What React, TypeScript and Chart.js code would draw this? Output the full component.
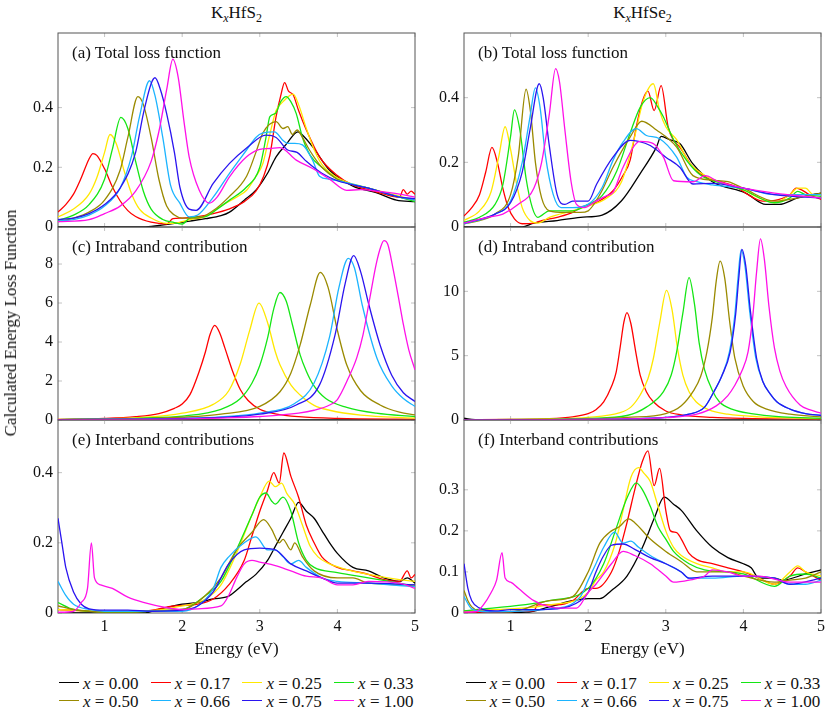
import React, { useEffect, useRef } from 'react';
import { Chart, registerables } from 'chart.js';

Chart.register(...registerables);

// doping levels and their line colours (legend order)
const dopings = ['0.00', '0.17', '0.25', '0.33', '0.50', '0.66', '0.75', '1.00'];
const lineColors = ['#000000', '#ff0000', '#ffe800', '#14e614', '#9a8a00', '#1cb4ff', '#2a14f0', '#ff10e8'];

const energyTicks = [1, 2, 3, 4, 5];
const ticksTotS = [0, 0.2, 0.4];
const ticksTotSe = [0, 0.2, 0.4];
const ticksIntraS = [0, 2, 4, 6, 8];
const ticksIntraSe = [0, 5, 10];
const ticksInterS = [0, 0.2, 0.4];
const ticksInterSe = [0, 0.1, 0.2, 0.3];

// (a) total loss function, KxHfS2 : [energy, value]
const totS_000 = [[0.4,0],[1.5,0],[1.7,0.005],[1.9,0.012],[2.1,0.02],[2.3,0.028],[2.5,0.038],[2.61,0.05],[2.8,0.09],[2.95,0.123],[3.1,0.18],[3.21,0.235],[3.35,0.28],[3.49,0.319],[3.58,0.3],[3.68,0.269],[3.9,0.19],[4.2,0.137],[4.5,0.115],[4.76,0.09],[5.0,0.085]];
const totS_017 = [[0.4,0.05],[0.5,0.075],[0.6,0.11],[0.7,0.165],[0.8,0.228],[0.85,0.246],[0.9,0.24],[1.0,0.195],[1.1,0.135],[1.2,0.088],[1.3,0.055],[1.4,0.035],[1.6,0.016],[1.8,0.01],[1.88,0.028],[2.0,0.03],[2.2,0.035],[2.4,0.045],[2.6,0.06],[2.8,0.085],[2.95,0.12],[3.05,0.17],[3.13,0.24],[3.21,0.37],[3.27,0.44],[3.32,0.484],[3.37,0.455],[3.43,0.443],[3.5,0.39],[3.6,0.325],[3.77,0.235],[3.99,0.174],[4.2,0.14],[4.4,0.125],[4.6,0.11],[4.8,0.1],[4.85,0.125],[4.9,0.11],[4.95,0.12],[5.0,0.11]];
const totS_025 = [[0.4,0.034],[0.6,0.06],[0.8,0.11],[0.9,0.165],[1.0,0.25],[1.07,0.31],[1.15,0.28],[1.25,0.19],[1.35,0.11],[1.45,0.06],[1.6,0.03],[1.8,0.012],[1.95,0.015],[2.1,0.025],[2.3,0.035],[2.52,0.073],[2.7,0.1],[2.83,0.123],[2.95,0.17],[3.04,0.213],[3.12,0.3],[3.21,0.39],[3.3,0.42],[3.43,0.445],[3.5,0.41],[3.6,0.33],[3.7,0.26],[3.8,0.21],[4.0,0.165],[4.4,0.13],[4.7,0.11],[5.0,0.09]];
const totS_033 = [[0.4,0.022],[0.6,0.04],[0.8,0.075],[1.0,0.16],[1.1,0.26],[1.21,0.367],[1.3,0.33],[1.4,0.22],[1.5,0.12],[1.6,0.06],[1.75,0.025],[1.9,0.015],[2.0,0.01],[2.1,0.03],[2.3,0.035],[2.45,0.06],[2.61,0.09],[2.83,0.134],[3.0,0.2],[3.08,0.3],[3.13,0.37],[3.2,0.38],[3.27,0.42],[3.34,0.437],[3.4,0.42],[3.47,0.38],[3.55,0.3],[3.65,0.24],[3.8,0.2],[4.0,0.16],[4.4,0.13],[4.8,0.1],[5.0,0.085]];
const totS_050 = [[0.4,0.018],[0.6,0.03],[0.8,0.05],[1.0,0.09],[1.2,0.19],[1.3,0.3],[1.43,0.437],[1.5,0.41],[1.6,0.3],[1.7,0.16],[1.8,0.07],[1.9,0.04],[2.0,0.03],[2.2,0.03],[2.4,0.055],[2.6,0.1],[2.83,0.17],[2.95,0.25],[3.04,0.315],[3.21,0.353],[3.3,0.33],[3.36,0.336],[3.42,0.31],[3.48,0.325],[3.55,0.3],[3.64,0.258],[3.8,0.2],[4.0,0.16],[4.4,0.13],[4.8,0.1],[5.0,0.09]];
const totS_066 = [[0.4,0.02],[0.6,0.025],[0.8,0.04],[1.0,0.07],[1.2,0.13],[1.35,0.24],[1.45,0.37],[1.58,0.49],[1.65,0.44],[1.75,0.3],[1.85,0.14],[1.97,0.08],[2.09,0.034],[2.2,0.04],[2.4,0.1],[2.61,0.18],[2.83,0.258],[2.95,0.3],[3.04,0.315],[3.19,0.319],[3.3,0.29],[3.36,0.28],[3.45,0.28],[3.55,0.275],[3.68,0.224],[3.77,0.17],[3.9,0.16],[4.0,0.155],[4.4,0.13],[4.8,0.1],[5.0,0.09]];
const totS_075 = [[0.4,0.025],[0.6,0.03],[0.8,0.045],[1.0,0.075],[1.2,0.13],[1.4,0.25],[1.5,0.38],[1.6,0.48],[1.65,0.5],[1.72,0.46],[1.8,0.38],[1.9,0.25],[1.97,0.134],[2.09,0.06],[2.18,0.056],[2.4,0.146],[2.61,0.213],[2.83,0.265],[3.08,0.308],[3.21,0.3],[3.36,0.258],[3.48,0.25],[3.6,0.22],[3.8,0.18],[4.0,0.155],[4.4,0.13],[4.8,0.1],[5.0,0.095]];
const totS_100 = [[0.4,0.018],[0.8,0.025],[1.0,0.045],[1.2,0.07],[1.4,0.12],[1.6,0.22],[1.7,0.32],[1.8,0.46],[1.88,0.562],[1.95,0.5],[2.02,0.36],[2.09,0.235],[2.22,0.123],[2.35,0.08],[2.45,0.1],[2.61,0.168],[2.83,0.235],[3.0,0.26],[3.13,0.263],[3.26,0.266],[3.47,0.224],[3.68,0.196],[3.9,0.16],[4.12,0.123],[4.3,0.125],[4.5,0.12],[4.8,0.11],[5.0,0.1]];

// (b) total loss function, KxHfSe2
const totSe_000 = [[0.4,0],[1.15,0],[1.3,0.012],[1.6,0.02],[1.9,0.03],[2.18,0.037],[2.43,0.081],[2.67,0.165],[2.88,0.247],[2.94,0.28],[3.05,0.27],[3.18,0.258],[3.35,0.195],[3.6,0.14],[4.03,0.105],[4.29,0.07],[4.46,0.07],[4.7,0.09],[4.89,0.1],[5.0,0.105]];
const totSe_017 = [[0.4,0.034],[0.5,0.06],[0.6,0.1],[0.68,0.17],[0.76,0.246],[0.83,0.2],[0.9,0.12],[0.97,0.06],[1.05,0.025],[1.15,0.01],[1.3,0.012],[1.4,0.02],[1.6,0.03],[1.8,0.045],[1.9,0.06],[2.11,0.076],[2.32,0.112],[2.45,0.16],[2.54,0.206],[2.62,0.31],[2.7,0.39],[2.77,0.42],[2.85,0.36],[2.94,0.437],[3.03,0.31],[3.1,0.268],[3.18,0.247],[3.35,0.185],[3.51,0.154],[3.7,0.14],[3.9,0.125],[4.08,0.097],[4.25,0.08],[4.45,0.085],[4.6,0.1],[4.68,0.12],[4.75,0.115],[4.85,0.1],[5.0,0.085]];
const totSe_025 = [[0.4,0.02],[0.6,0.05],[0.75,0.11],[0.85,0.22],[0.93,0.31],[1.0,0.24],[1.08,0.13],[1.15,0.06],[1.25,0.02],[1.35,0.012],[1.5,0.03],[1.8,0.05],[2.0,0.065],[2.24,0.09],[2.43,0.14],[2.58,0.26],[2.71,0.39],[2.84,0.443],[2.92,0.36],[3.0,0.31],[3.14,0.27],[3.3,0.2],[3.5,0.16],[3.8,0.13],[4.0,0.115],[4.2,0.09],[4.4,0.075],[4.6,0.1],[4.7,0.12],[4.8,0.12],[4.9,0.1],[5.0,0.1]];
const totSe_033 = [[0.4,0.015],[0.6,0.03],[0.8,0.07],[0.9,0.13],[1.0,0.28],[1.05,0.362],[1.12,0.3],[1.2,0.15],[1.28,0.06],[1.35,0.03],[1.5,0.05],[1.8,0.05],[2.0,0.07],[2.18,0.097],[2.37,0.174],[2.54,0.29],[2.67,0.37],[2.8,0.4],[2.9,0.37],[2.97,0.34],[3.1,0.27],[3.27,0.205],[3.45,0.16],[3.8,0.13],[4.0,0.115],[4.4,0.075],[4.6,0.09],[4.7,0.11],[4.8,0.1],[5.0,0.095]];
const totSe_050 = [[0.4,0.01],[0.6,0.02],[0.8,0.04],[1.0,0.1],[1.1,0.22],[1.2,0.426],[1.26,0.35],[1.32,0.2],[1.4,0.09],[1.5,0.05],[1.7,0.045],[1.9,0.045],[2.0,0.05],[2.15,0.1],[2.32,0.185],[2.54,0.278],[2.69,0.327],[2.88,0.3],[3.14,0.247],[3.35,0.159],[3.6,0.145],[3.8,0.14],[4.0,0.12],[4.4,0.08],[4.7,0.09],[5.0,0.105]];
const totSe_066 = [[0.4,0.01],[0.8,0.04],[1.0,0.08],[1.15,0.2],[1.25,0.34],[1.32,0.43],[1.38,0.37],[1.45,0.22],[1.55,0.1],[1.65,0.06],[1.8,0.06],[2.0,0.07],[2.18,0.122],[2.32,0.206],[2.45,0.263],[2.62,0.304],[2.75,0.283],[2.92,0.273],[3.14,0.216],[3.27,0.154],[3.4,0.14],[3.6,0.13],[4.0,0.12],[4.4,0.1],[5.0,0.1]];
const totSe_075 = [[0.4,0.012],[0.8,0.04],[1.0,0.075],[1.15,0.17],[1.25,0.3],[1.37,0.443],[1.42,0.4],[1.5,0.25],[1.6,0.1],[1.7,0.07],[1.8,0.08],[2.0,0.08],[2.11,0.133],[2.32,0.216],[2.54,0.268],[2.65,0.265],[2.8,0.252],[3.0,0.216],[3.18,0.185],[3.35,0.133],[3.6,0.135],[4.0,0.12],[4.4,0.1],[5.0,0.09]];
const totSe_100 = [[0.4,0.012],[0.7,0.03],[0.9,0.04],[1.1,0.07],[1.3,0.12],[1.4,0.2],[1.5,0.35],[1.58,0.49],[1.63,0.45],[1.7,0.3],[1.78,0.14],[1.85,0.07],[1.95,0.06],[2.1,0.08],[2.24,0.097],[2.32,0.107],[2.45,0.185],[2.67,0.265],[2.84,0.258],[2.97,0.216],[3.1,0.143],[3.35,0.14],[3.51,0.159],[3.68,0.14],[4.0,0.12],[4.4,0.105],[5.0,0.09]];

// (c) intraband contribution, KxHfS2
const intraS_000 = [[0.4,0],[5.0,0]];
const intraS_017 = [[0.4,0.03],[1.0,0.08],[1.4,0.17],[1.7,0.33],[1.9,0.6],[2.0,0.82],[2.1,1.3],[2.22,2.5],[2.3,3.5],[2.36,4.4],[2.42,4.85],[2.48,4.5],[2.55,3.7],[2.65,2.5],[2.75,1.55],[2.85,1.0],[3.0,0.55],[3.2,0.32],[3.5,0.17],[4.0,0.08],[5.0,0.04]];
const intraS_025 = [[0.4,0.03],[1.0,0.06],[1.5,0.13],[2.0,0.35],[2.4,0.8],[2.6,1.5],[2.75,2.9],[2.87,4.6],[2.99,6.0],[3.1,5.0],[3.2,3.5],[3.26,2.83],[3.4,1.8],[3.52,1.28],[3.7,0.75],[3.9,0.5],[4.3,0.25],[5.0,0.1]];
const intraS_033 = [[0.4,0.02],[1.0,0.05],[1.5,0.1],[2.0,0.2],[2.5,0.55],[2.75,1.1],[2.9,1.9],[3.0,2.8],[3.1,4.2],[3.18,5.7],[3.26,6.54],[3.34,6.1],[3.42,4.9],[3.52,3.34],[3.6,2.5],[3.69,1.8],[3.85,1.1],[4.12,0.65],[4.5,0.35],[5.0,0.17]];
const intraS_050 = [[0.4,0.02],[1.0,0.04],[1.5,0.07],[2.0,0.14],[2.5,0.3],[3.0,0.7],[3.26,1.45],[3.4,2.4],[3.52,3.85],[3.65,5.9],[3.78,7.57],[3.88,6.8],[4.0,4.6],[4.12,2.83],[4.3,1.5],[4.55,0.77],[4.8,0.4],[5.0,0.26]];
const intraS_066 = [[0.4,0.02],[1.5,0.05],[2.0,0.08],[2.5,0.16],[3.0,0.35],[3.45,0.85],[3.7,1.9],[3.9,4.28],[4.02,6.8],[4.14,8.29],[4.22,7.8],[4.32,5.9],[4.51,3.17],[4.7,1.75],[4.85,1.1],[5.0,0.7]];
const intraS_075 = [[0.4,0.02],[1.5,0.04],[2.0,0.07],[2.5,0.13],[3.0,0.3],[3.47,0.77],[3.77,1.8],[3.97,4.37],[4.1,7.0],[4.21,8.43],[4.3,7.6],[4.4,6.0],[4.55,3.85],[4.7,2.3],[4.85,1.4],[5.0,0.95]];
const intraS_100 = [[0.4,0.01],[1.5,0.03],[2.0,0.05],[2.5,0.1],[3.0,0.18],[3.5,0.35],[3.7,0.5],[3.9,0.77],[4.0,1.05],[4.14,2.14],[4.25,3.2],[4.33,4.37],[4.42,6.3],[4.5,8.0],[4.56,8.9],[4.6,9.2],[4.65,9.0],[4.72,7.7],[4.8,6.0],[4.85,4.9],[4.92,3.6],[5.0,2.57]];

// (d) intraband contribution, KxHfSe2
const intraSe_000 = [[0.4,0.15],[0.45,0.08],[0.5,0.04],[0.6,0.01],[0.8,0],[5.0,0]];
const intraSe_017 = [[0.4,0.03],[1.0,0.05],[1.5,0.1],[1.8,0.25],[2.0,0.5],[2.1,0.8],[2.2,1.4],[2.3,2.6],[2.36,3.7],[2.41,5.56],[2.46,7.6],[2.5,8.35],[2.55,7.5],[2.61,5.4],[2.67,3.49],[2.75,2.2],[2.84,1.42],[3.0,0.7],[3.2,0.4],[3.6,0.2],[4.0,0.12],[5.0,0.06]];
const intraSe_025 = [[0.4,0.02],[1.5,0.08],[2.0,0.2],[2.4,0.55],[2.55,1.0],[2.67,1.94],[2.77,3.2],[2.84,4.78],[2.92,7.5],[3.01,10.08],[3.08,8.6],[3.15,5.6],[3.22,3.49],[3.3,2.2],[3.39,1.42],[3.55,0.8],[3.8,0.45],[4.2,0.25],[5.0,0.1]];
const intraSe_033 = [[0.4,0.02],[1.5,0.05],[2.0,0.12],[2.5,0.35],[2.75,1.0],[2.97,2.2],[3.07,3.5],[3.14,5.3],[3.22,8.3],[3.3,11.06],[3.37,9.0],[3.43,6.0],[3.5,3.9],[3.6,2.3],[3.69,1.42],[3.85,0.85],[4.1,0.5],[4.5,0.25],[5.0,0.13]];
const intraSe_050 = [[0.4,0.02],[1.5,0.04],[2.0,0.08],[2.5,0.2],[3.0,0.5],[3.2,1.1],[3.35,2.2],[3.45,3.4],[3.53,5.3],[3.6,8.0],[3.65,10.8],[3.7,12.35],[3.76,11.0],[3.82,7.8],[3.89,4.8],[4.0,2.6],[4.13,1.42],[4.3,0.85],[4.6,0.45],[5.0,0.25]];
const intraSe_066 = [[0.4,0.01],[1.5,0.02],[2.0,0.04],[2.5,0.08],[3.0,0.2],[3.3,0.45],[3.5,1.0],[3.62,2.2],[3.72,3.4],[3.82,5.3],[3.89,8.2],[3.93,11.0],[3.97,13.2],[4.02,12.0],[4.08,8.5],[4.16,4.8],[4.25,3.0],[4.35,2.0],[4.43,1.42],[4.6,0.85],[4.8,0.5],[5.0,0.35]];
const intraSe_075 = [[0.4,0.01],[1.5,0.02],[2.0,0.04],[2.5,0.08],[3.0,0.2],[3.3,0.45],[3.5,1.0],[3.62,2.2],[3.72,3.4],[3.83,5.3],[3.9,8.2],[3.94,11.0],[3.98,13.26],[4.03,12.0],[4.09,8.5],[4.17,4.8],[4.25,3.0],[4.35,2.0],[4.43,1.42],[4.6,0.85],[4.8,0.5],[5.0,0.35]];
const intraSe_100 = [[0.4,0.01],[2.0,0.04],[2.5,0.08],[3.0,0.18],[3.4,0.45],[3.65,1.1],[3.8,1.9],[3.89,2.7],[3.98,3.8],[4.06,5.3],[4.12,8.0],[4.17,11.5],[4.22,14.08],[4.27,12.5],[4.33,8.8],[4.4,5.6],[4.47,3.8],[4.55,2.6],[4.73,1.16],[4.85,0.8],[5.0,0.54]];

// (e) interband contributions, KxHfS2
const interS_000 = [[0.4,0],[1.5,0],[1.7,0.01],[2.0,0.025],[2.2,0.03],[2.4,0.04],[2.6,0.048],[2.7,0.065],[2.82,0.088],[2.95,0.11],[3.1,0.15],[3.2,0.19],[3.3,0.23],[3.4,0.27],[3.5,0.315],[3.6,0.29],[3.7,0.27],[3.8,0.235],[3.9,0.2],[4.0,0.17],[4.2,0.13],[4.4,0.12],[4.6,0.1],[4.8,0.09],[4.9,0.1],[5.0,0.085]];
const interS_017 = [[0.4,0.01],[1.0,0.004],[1.5,0.005],[1.9,0.02],[2.2,0.025],[2.4,0.04],[2.6,0.08],[2.8,0.15],[2.9,0.22],[3.0,0.29],[3.1,0.35],[3.18,0.4],[3.25,0.37],[3.31,0.456],[3.4,0.39],[3.5,0.33],[3.6,0.25],[3.7,0.2],[3.8,0.16],[4.0,0.13],[4.2,0.12],[4.4,0.11],[4.6,0.095],[4.8,0.09],[4.9,0.12],[4.95,0.1],[5.0,0.11]];
const interS_025 = [[0.4,0.01],[1.0,0.004],[1.5,0.005],[2.0,0.02],[2.3,0.04],[2.5,0.08],[2.7,0.17],[2.9,0.28],[3.0,0.33],[3.12,0.376],[3.2,0.36],[3.28,0.37],[3.35,0.34],[3.45,0.31],[3.55,0.25],[3.65,0.19],[3.75,0.16],[3.9,0.14],[4.1,0.125],[4.4,0.11],[4.8,0.095],[5.0,0.09]];
const interS_033 = [[0.4,0.03],[0.6,0.01],[1.0,0.003],[2.0,0.01],[2.3,0.05],[2.5,0.09],[2.7,0.18],[2.9,0.28],[3.0,0.33],[3.08,0.342],[3.15,0.32],[3.2,0.31],[3.3,0.33],[3.4,0.29],[3.5,0.2],[3.6,0.15],[3.7,0.13],[4.0,0.115],[4.4,0.1],[4.8,0.085],[5.0,0.075]];
const interS_050 = [[0.4,0.02],[0.6,0.01],[0.8,0.005],[1.0,0.003],[2.0,0.01],[2.3,0.05],[2.5,0.1],[2.7,0.18],[2.9,0.23],[3.05,0.266],[3.15,0.24],[3.25,0.2],[3.3,0.21],[3.4,0.18],[3.45,0.2],[3.55,0.16],[3.7,0.12],[4.0,0.1],[4.2,0.1],[4.4,0.085],[5.0,0.08]];
const interS_066 = [[0.4,0.09],[0.5,0.05],[0.6,0.025],[0.8,0.01],[1.0,0.005],[2.0,0.005],[2.2,0.02],[2.4,0.07],[2.5,0.13],[2.6,0.16],[2.8,0.2],[2.95,0.217],[3.1,0.18],[3.2,0.18],[3.3,0.16],[3.4,0.14],[3.5,0.15],[3.6,0.13],[3.8,0.1],[4.0,0.09],[4.4,0.085],[5.0,0.075]];
const interS_075 = [[0.4,0.27],[0.45,0.2],[0.5,0.13],[0.6,0.06],[0.7,0.025],[0.8,0.012],[1.0,0.008],[1.3,0.008],[1.6,0.005],[2.0,0.008],[2.2,0.02],[2.4,0.06],[2.6,0.14],[2.8,0.18],[3.0,0.185],[3.2,0.18],[3.4,0.14],[3.6,0.12],[3.8,0.1],[4.0,0.085],[4.4,0.085],[5.0,0.08]];
const interS_100 = [[0.4,0.002],[0.6,0.005],[0.7,0.03],[0.78,0.07],[0.83,0.2],[0.87,0.1],[0.95,0.08],[1.1,0.07],[1.3,0.045],[1.5,0.03],[1.8,0.015],[2.0,0.01],[2.2,0.012],[2.5,0.02],[2.6,0.05],[2.7,0.1],[2.8,0.14],[2.9,0.15],[3.0,0.145],[3.2,0.135],[3.4,0.12],[3.6,0.105],[3.8,0.1],[4.0,0.08],[4.2,0.08],[4.4,0.09],[4.8,0.085],[5.0,0.07]];

// (f) interband contributions, KxHfSe2
const interSe_000 = [[0.4,0],[1.2,0.002],[1.5,0.015],[1.8,0.03],[2.0,0.035],[2.15,0.035],[2.3,0.055],[2.5,0.09],[2.7,0.16],[2.85,0.23],[2.98,0.282],[3.1,0.265],[3.2,0.25],[3.4,0.2],[3.6,0.16],[3.8,0.135],[4.0,0.12],[4.1,0.11],[4.2,0.085],[4.4,0.085],[4.5,0.08],[4.8,0.095],[5.0,0.105]];
const interSe_017 = [[0.4,0.002],[1.3,0.005],[1.35,0.02],[1.6,0.02],[1.8,0.03],[2.0,0.06],[2.1,0.06],[2.3,0.1],[2.4,0.15],[2.5,0.22],[2.6,0.3],[2.7,0.37],[2.77,0.395],[2.85,0.31],[2.92,0.352],[3.0,0.25],[3.06,0.2],[3.14,0.196],[3.2,0.18],[3.3,0.145],[3.4,0.13],[3.6,0.12],[3.8,0.11],[4.0,0.1],[4.2,0.085],[4.4,0.07],[4.6,0.09],[4.7,0.11],[4.8,0.1],[5.0,0.08]];
const interSe_025 = [[0.4,0.005],[1.5,0.02],[2.0,0.05],[2.1,0.08],[2.2,0.1],[2.35,0.17],[2.45,0.25],[2.55,0.33],[2.65,0.354],[2.72,0.34],[2.8,0.32],[2.9,0.26],[3.0,0.2],[3.1,0.16],[3.2,0.14],[3.4,0.12],[3.6,0.11],[3.8,0.1],[4.0,0.1],[4.4,0.07],[4.6,0.1],[4.7,0.115],[4.8,0.1],[5.0,0.09]];
const interSe_033 = [[0.4,0.005],[1.5,0.03],[2.0,0.06],[2.2,0.12],[2.35,0.2],[2.5,0.28],[2.62,0.317],[2.7,0.3],[2.8,0.26],[2.9,0.21],[3.0,0.18],[3.1,0.15],[3.3,0.12],[3.5,0.105],[3.8,0.1],[4.0,0.095],[4.4,0.065],[4.6,0.09],[4.8,0.095],[5.0,0.085]];
const interSe_050 = [[0.4,0.055],[0.45,0.03],[0.5,0.015],[0.6,0.005],[1.0,0.003],[1.5,0.03],[1.8,0.04],[2.0,0.1],[2.15,0.17],[2.3,0.2],[2.4,0.21],[2.52,0.229],[2.6,0.22],[2.8,0.18],[3.0,0.15],[3.2,0.125],[3.4,0.1],[3.6,0.1],[3.8,0.1],[4.0,0.09],[4.4,0.075],[4.6,0.08],[4.8,0.085],[5.0,0.1]];
const interSe_066 = [[0.4,0.04],[0.5,0.01],[0.7,0.003],[1.5,0.01],[1.9,0.04],[2.0,0.08],[2.1,0.12],[2.2,0.16],[2.34,0.197],[2.45,0.17],[2.55,0.175],[2.65,0.16],[2.8,0.14],[3.0,0.12],[3.2,0.1],[3.3,0.085],[3.6,0.085],[4.0,0.09],[4.4,0.085],[4.6,0.07],[4.8,0.07],[5.0,0.08]];
const interSe_075 = [[0.4,0.12],[0.45,0.06],[0.5,0.03],[0.6,0.012],[0.8,0.005],[1.0,0.008],[1.3,0.008],[1.6,0.01],[1.9,0.03],[2.0,0.05],[2.1,0.1],[2.2,0.14],[2.3,0.165],[2.45,0.168],[2.6,0.155],[2.8,0.135],[3.0,0.12],[3.2,0.1],[3.3,0.085],[3.6,0.09],[4.0,0.09],[4.4,0.085],[4.6,0.07],[5.0,0.085]];
const interSe_100 = [[0.4,0.002],[0.55,0.003],[0.65,0.02],[0.75,0.05],[0.82,0.08],[0.89,0.147],[0.93,0.085],[1.0,0.075],[1.1,0.06],[1.3,0.03],[1.5,0.015],[1.7,0.012],[1.85,0.012],[2.0,0.05],[2.1,0.07],[2.3,0.12],[2.45,0.15],[2.6,0.14],[2.8,0.12],[3.0,0.09],[3.1,0.075],[3.3,0.08],[3.5,0.09],[3.6,0.105],[3.8,0.1],[4.0,0.09],[4.2,0.09],[4.6,0.075],[5.0,0.075]];

const totS = [totS_000, totS_017, totS_025, totS_033, totS_050, totS_066, totS_075, totS_100];
const totSe = [totSe_000, totSe_017, totSe_025, totSe_033, totSe_050, totSe_066, totSe_075, totSe_100];
const intraS = [intraS_000, intraS_017, intraS_025, intraS_033, intraS_050, intraS_066, intraS_075, intraS_100];
const intraSe = [intraSe_000, intraSe_017, intraSe_025, intraSe_033, intraSe_050, intraSe_066, intraSe_075, intraSe_100];
const interS = [interS_000, interS_017, interS_025, interS_033, interS_050, interS_066, interS_075, interS_100];
const interSe = [interSe_000, interSe_017, interSe_025, interSe_033, interSe_050, interSe_066, interSe_075, interSe_100];

const FONT = '"Liberation Serif", "Times New Roman", serif';

// plot-area geometry (page pixels)
const colLeft = [58, 464];
const colRight = [415, 821];
const rowTop = [33, 227, 420];
const rowBottom = [227, 420, 613];
const Y_AXIS_W = 50;

const panels = [
  { label: '(a) Total loss function', series: totS, ymax: 0.65, yTicks: ticksTotS, col: 0, row: 0 },
  { label: '(b) Total loss function', series: totSe, ymax: 0.6, yTicks: ticksTotSe, col: 1, row: 0 },
  { label: '(c) Intraband contribution', series: intraS, ymax: 9.9, yTicks: ticksIntraS, col: 0, row: 1 },
  { label: '(d) Intraband contribution', series: intraSe, ymax: 15, yTicks: ticksIntraSe, col: 1, row: 1 },
  { label: '(e) Interband contributions', series: interS, ymax: 0.55, yTicks: ticksInterS, col: 0, row: 2 },
  { label: '(f) Interband contributions', series: interSe, ymax: 0.47, yTicks: ticksInterSe, col: 1, row: 2 },
];

// pgfplots-like box with inward tick marks
const framePlugin = {
  id: 'frame',
  beforeDatasetsDraw(chart: any) {
    const { ctx, chartArea } = chart;
    const { left, right, top, bottom } = chartArea;
    const xs = chart.scales.x;
    const ys = chart.scales.y;
    ctx.save();
    ctx.strokeStyle = '#b4b4b4';
    ctx.lineWidth = 0.8;
    ctx.beginPath();
    xs.ticks.forEach((t: any) => {
      const px = xs.getPixelForValue(t.value);
      ctx.moveTo(px, bottom);
      ctx.lineTo(px, bottom - 4);
      ctx.moveTo(px, top);
      ctx.lineTo(px, top + 4);
    });
    ys.ticks.forEach((t: any) => {
      const py = ys.getPixelForValue(t.value);
      ctx.moveTo(left, py);
      ctx.lineTo(left + 4, py);
      ctx.moveTo(right, py);
      ctx.lineTo(right - 4, py);
    });
    ctx.stroke();
    ctx.strokeStyle = '#555555';
    ctx.lineWidth = 1;
    ctx.strokeRect(left, top, right - left, bottom - top);
    ctx.restore();
  },
};

type PanelSpec = (typeof panels)[number];

const Panel: React.FC<{ spec: PanelSpec }> = ({ spec }) => {
  const canvasRef = useRef<HTMLCanvasElement | null>(null);
  const bottomRow = spec.row === 2;
  const padTop = 6;
  const padRight = 8;
  const xAxisH = bottomRow ? 26 : 12;
  const plotW = colRight[spec.col] - colLeft[spec.col];
  const plotH = rowBottom[spec.row] - rowTop[spec.row];
  const width = Y_AXIS_W + plotW + padRight;
  const height = padTop + plotH + xAxisH;
  const left = colLeft[spec.col] - Y_AXIS_W;
  const top = rowTop[spec.row] - padTop;

  useEffect(() => {
    if (!canvasRef.current) return;
    const chart = new Chart(canvasRef.current, {
      type: 'line',
      data: {
        datasets: spec.series.map((pts, i) => ({
          label: 'x = ' + dopings[i],
          data: pts.map(([x, y]) => ({ x, y })),
          borderColor: lineColors[i],
          borderWidth: 1.3,
          pointRadius: 0,
          fill: false,
          cubicInterpolationMode: 'monotone' as const,
          order: dopings.length - i,
        })),
      },
      options: {
        responsive: false,
        animation: false,
        layout: { padding: { left: 0, top: padTop, right: padRight, bottom: 0 } },
        plugins: { legend: { display: false }, tooltip: { enabled: false } },
        scales: {
          x: {
            type: 'linear',
            min: 0.4,
            max: 5,
            grid: { display: false, drawTicks: false },
            border: { display: false },
            afterBuildTicks: (s: any) => { s.ticks = energyTicks.map((v) => ({ value: v })); },
            afterFit: (s: any) => {
              s.height = xAxisH;
              s.paddingLeft = 0;
              s.paddingRight = 0;
            },
            ticks: {
              display: bottomRow,
              padding: 4,
              maxRotation: 0,
              color: '#111',
              font: { family: FONT, size: 16 },
              callback: (v: any) => String(v),
            },
          },
          y: {
            type: 'linear',
            min: 0,
            max: spec.ymax,
            grid: { display: false, drawTicks: false },
            border: { display: false },
            afterBuildTicks: (s: any) => { s.ticks = spec.yTicks.map((v) => ({ value: v })); },
            afterFit: (s: any) => {
              s.width = Y_AXIS_W;
              s.paddingTop = 0;
              s.paddingBottom = 0;
            },
            ticks: {
              padding: 5,
              color: '#111',
              font: { family: FONT, size: 16 },
              callback: (v: any) => String(v),
            },
          },
        },
      },
      plugins: [framePlugin],
    });
    return () => chart.destroy();
  }, []);

  return (
    <>
      <canvas
        ref={canvasRef}
        width={width}
        height={height}
        style={{ position: 'absolute', left, top, width, height }}
      />
      <div style={{ position: 'absolute', left: colLeft[spec.col] + 14, top: rowTop[spec.row] + 11, fontSize: 17, lineHeight: 1, whiteSpace: 'nowrap' }}>
        {spec.label}
      </div>
    </>
  );
};

const Legend: React.FC<{ x0: number }> = ({ x0 }) => (
  <>
    {dopings.map((d, i) => {
      const cx = x0 + (i % 4) * 91.7;
      const ly = i < 4 ? 682.5 : 700.5;
      return (
        <React.Fragment key={d}>
          <div style={{ position: 'absolute', left: cx, top: ly - 0.75, width: 20, height: 1.5, background: lineColors[i] }} />
          <div style={{ position: 'absolute', left: cx + 24, top: ly - 8, fontSize: 17, lineHeight: 1, whiteSpace: 'nowrap' }}>
            <i>x</i> = {d}
          </div>
        </React.Fragment>
      );
    })}
  </>
);

const App: React.FC = () => (
  <div style={{ position: 'absolute', left: 0, top: 0, width: 830, height: 714, background: '#fff', fontFamily: FONT, color: '#111', overflow: 'hidden' }}>
    {[0, 1].map((c) => (
      <div key={'t' + c} style={{ position: 'absolute', left: colLeft[c], width: colRight[c] - colLeft[c], top: 4, textAlign: 'center', fontSize: 17, lineHeight: 1 }}>
        K<sub style={{ fontSize: 12 }}><i>x</i></sub>Hf{c === 0 ? 'S' : 'Se'}<sub style={{ fontSize: 12 }}>2</sub>
      </div>
    ))}
    {panels.map((p) => (
      <Panel key={p.label} spec={p} />
    ))}
    <div style={{ position: 'absolute', left: 11, top: 323, transform: 'translate(-50%, -50%) rotate(-90deg)', fontSize: 17, whiteSpace: 'nowrap' }}>
      Calculated Energy Loss Function
    </div>
    {[0, 1].map((c) => (
      <div key={'e' + c} style={{ position: 'absolute', left: colLeft[c], width: colRight[c] - colLeft[c], top: 640, textAlign: 'center', fontSize: 17, lineHeight: 1 }}>
        Energy (eV)
      </div>
    ))}
    <Legend x0={59} />
    <Legend x0={465.7} />
  </div>
);

export default App;
